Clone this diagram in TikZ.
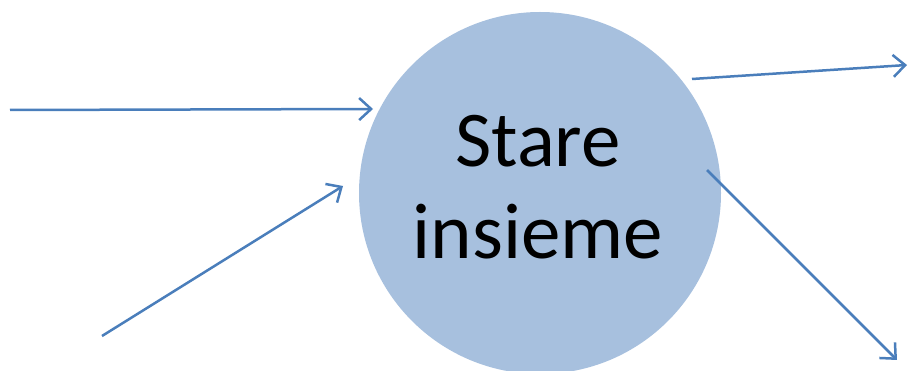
\documentclass[tikz,border=0pt]{standalone}
\usepackage{fontspec}
\setmainfont{Carlito}
\usetikzlibrary{arrows.meta}
\definecolor{circfill}{HTML}{A7C0DE}
\definecolor{linecol}{HTML}{4A7EBB}
\tikzset{
  conn/.style={draw=linecol, line width=2.5pt, -{Straight Barb[length=12pt,width=22pt,line width=2.5pt]}},
  bubble/.style={circle, fill=circfill, minimum size=362pt, inner sep=0pt},
  label/.style={font=\fontsize{79pt}{92pt}\selectfont, anchor=base, inner sep=0pt}
}
\begin{document}
\begin{tikzpicture}[x=1pt,y=-1pt]
\useasboundingbox (0,0) rectangle (908,371);
\clip (0,0) rectangle (908,371);
\node[bubble] (c) at (540,193) {};
\node[label] (t1) at (538,167) {Stare};
\node[label] (t2) at (538,259) {insieme};
\coordinate (a1s) at (10,110);
\coordinate (a1e) at (373,109);
\coordinate (a2s) at (102,336);
\coordinate (a2e) at (343,186);
\coordinate (a3s) at (692,79);
\coordinate (a3e) at (907,65);
\coordinate (a4s) at (707,170);
\coordinate (a4e) at (897,360);
\draw[conn] (a1s) -- (a1e);
\draw[conn] (a2s) -- (a2e);
\draw[conn] (a3s) -- (a3e);
\draw[conn] (a4s) -- (a4e);
\end{tikzpicture}
\end{document}
